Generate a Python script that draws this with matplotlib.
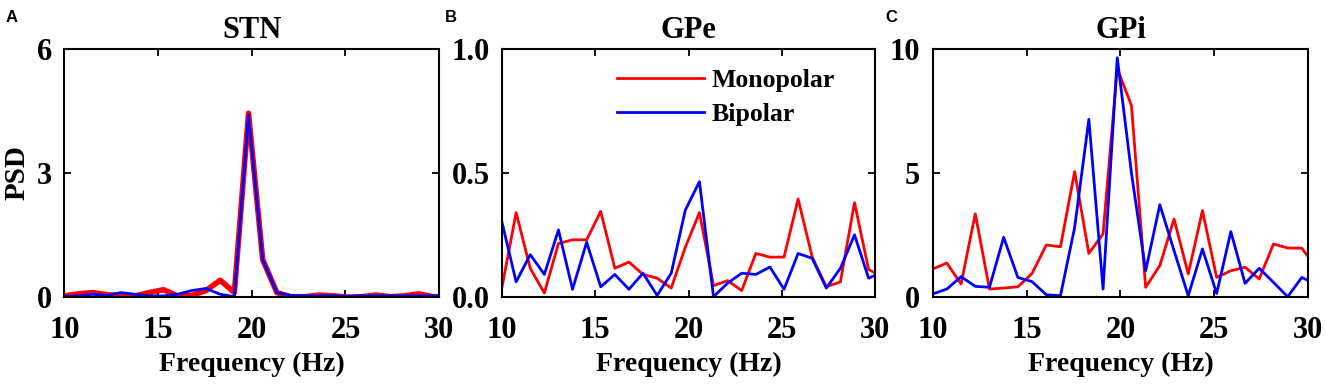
import matplotlib
matplotlib.use('Agg')
import matplotlib.pyplot as plt
import numpy as np

# frequency bins (Hz), spacing
freqs = 10 + 0.756 * np.arange(28)

stn_mono = [0.02, 0.07, 0.10, 0.05, 0.03, 0.02, 0.10, 0.17, 0.02, 0.03, 0.15, 0.40, 0.10, 4.45,
            0.90, 0.10, 0.00, 0.00, 0.04, 0.02, -0.01, 0.00, 0.04, 0.00, 0.02, 0.07, 0.00, 0.00]
stn_bi = [0.00, 0.02, 0.06, 0.03, 0.10, 0.06, 0.02, 0.02, 0.06, 0.15, 0.20, 0.06, 0.00, 4.40,
          0.90, 0.10, 0.03, 0.02, 0.02, 0.02, 0.01, 0.02, 0.02, 0.02, 0.02, 0.02, 0.02, 0.02]

gpe_mono = [0.04, 0.34, 0.115, 0.015, 0.215, 0.23, 0.23, 0.345, 0.115, 0.14, 0.09, 0.075, 0.035, 0.20,
            0.34, 0.045, 0.065, 0.025, 0.175, 0.16, 0.16, 0.395, 0.16, 0.04, 0.06, 0.38, 0.11, 0.08]
gpe_bi = [0.30, 0.06, 0.17, 0.09, 0.27, 0.03, 0.22, 0.04, 0.09, 0.03, 0.095, 0.005, 0.095, 0.35,
          0.465, 0.00, 0.055, 0.095, 0.09, 0.12, 0.03, 0.175, 0.155, 0.035, 0.115, 0.25, 0.075, 0.10]

gpi_mono = [1.12, 1.36, 0.51, 3.35, 0.31, 0.35, 0.40, 0.94, 2.09, 2.02, 5.06, 1.75, 2.54, 9.22,
            7.73, 0.38, 1.26, 3.14, 0.92, 3.48, 0.78, 1.05, 1.19, 0.72, 2.13, 1.97, 1.96, 1.20]
gpi_bi = [0.11, 0.31, 0.81, 0.42, 0.38, 2.40, 0.78, 0.61, 0.08, 0.04, 2.80, 7.17, 0.31, 9.66,
          5.00, 1.05, 3.72, 1.86, 0.04, 1.93, 0.13, 2.63, 0.54, 1.15, 0.58, 0.00, 0.78, 0.50]

titles = ['STN', 'GPe', 'GPi']
letters = ['A', 'B', 'C']
ylims = [6, 1.0, 10]
yticks = [[0, 3, 6], [0, 0.5, 1.0], [0, 5, 10]]
yticklabels = [['0', '3', '6'], ['0.0', '0.5', '1.0'], ['0', '5', '10']]
xticks = [10, 15, 20, 25, 30]

plt.rcParams['font.family'] = ['Liberation Serif', 'DejaVu Serif']
plt.rcParams['font.weight'] = 'bold'

fig = plt.figure(figsize=(13.25, 3.84), dpi=100)
lefts = [0.0485, 0.3789, 0.7039]
widths = [0.283, 0.2815, 0.2835]
data = [(stn_mono, stn_bi), (gpe_mono, gpe_bi), (gpi_mono, gpi_bi)]

for i in range(3):
    ax = fig.add_axes([lefts[i], 0.2273, widths[i], 0.6443])
    mono, bi = data[i]
    lw_red = 4.0 if i == 0 else 2.0
    ax.plot(freqs, mono, color='#ff0000', lw=lw_red, label='Monopolar')
    ax.plot(freqs, bi, color='#0000ff', lw=2.0, label='Bipolar')
    ax.set_xlim(10, 30)
    ax.set_ylim(0, ylims[i])
    ax.set_xticks(xticks)
    ax.set_xticklabels([str(t) for t in xticks])
    ax.set_yticks(yticks[i])
    ax.set_yticklabels(yticklabels[i])
    ax.tick_params(direction='in', length=5, width=1.3, top=True, right=True,
                   labelsize=22)
    ax.tick_params(axis='x', pad=14)
    ax.tick_params(axis='y', pad=9)
    for s in ax.spines.values():
        s.set_linewidth(1.5)
    ax.set_title(titles[i], fontsize=22, fontweight='bold', pad=8)
    ax.set_xlabel('Frequency (Hz)', fontsize=20, fontweight='bold', labelpad=5)
    if i == 0:
        ax.set_ylabel('PSD', fontsize=21, fontweight='bold', labelpad=4)
    if i == 1:
        ax.legend(loc='upper left', bbox_to_anchor=(0.28, 0.96), frameon=False,
                  fontsize=18.5, handlelength=3.4, handletextpad=0.3, labelspacing=0.4,
                  borderaxespad=0)
    fig.text([0.004, 0.336, 0.668][i], 0.955, letters[i], fontsize=12, fontweight='bold',
             family='Liberation Sans', va='center')

fig.savefig('out.png', dpi=100)
